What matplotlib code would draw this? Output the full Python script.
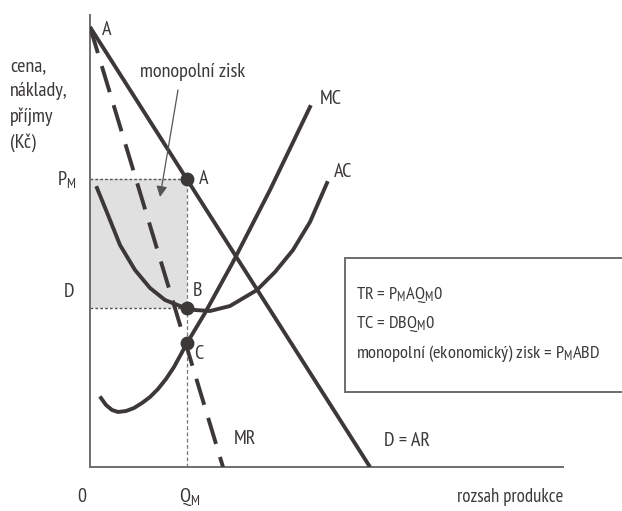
import numpy as np
import matplotlib.pyplot as plt
from matplotlib.patches import Rectangle

plt.rcParams['font.family'] = ['PT Sans Narrow', 'DejaVu Sans']
plt.rcParams['mathtext.fontset'] = 'custom'
plt.rcParams['mathtext.rm'] = 'PT Sans Narrow'
plt.rcParams['mathtext.it'] = 'PT Sans Narrow'

ink = '#3b3837'
axis_col = '#6e6e6e'

# demand (= AR) line: price intercept and quantity intercept
demand_q = [0.0, 28.0]
demand_p = [44.0, 0.0]
# marginal revenue, dashed
mr_q = [0.0, 13.3]
mr_p = [44.0, 0.0]
# marginal cost
mc_q = [1.1, 1.6, 2.2, 2.8, 3.6, 4.4, 5.2, 6.0, 6.8, 7.6, 8.4, 9.0, 9.7, 11.5, 14.3, 18.0, 22.0]
mc_p = [6.9, 6.2, 5.7, 5.5, 5.6, 5.9, 6.4, 7.0, 7.8, 8.8, 10.0, 11.1, 12.4, 15.4, 20.5, 27.7, 36.0]
# average cost
ac_q = [0.7, 1.8, 3.0, 4.5, 6.0, 7.5, 9.0, 9.7, 10.5, 12.0, 14.0, 16.7, 18.5, 20.3, 22.0, 23.7]
ac_p = [27.9, 25.2, 22.2, 19.7, 17.9, 16.7, 16.1, 15.9, 15.7, 15.6, 16.1, 17.7, 19.5, 21.7, 24.5, 28.4]

q_m = 9.7
p_m = np.interp(q_m, demand_q, [demand_p[0], demand_p[1]])
d_level = np.interp(q_m, ac_q, ac_p)
mc_at_qm = np.interp(q_m, mc_q, mc_p)

fig = plt.figure(figsize=(6.22, 5.11), dpi=100)
ax = fig.add_axes([90 / 622, 44 / 511, 473 / 622, 452 / 511])
ax.set_xlim(0, 47.3)
ax.set_ylim(0, 45.2)
for s in ['top', 'right']:
    ax.spines[s].set_visible(False)
for s in ['left', 'bottom']:
    ax.spines[s].set_color(axis_col)
    ax.spines[s].set_linewidth(1.4)
ax.set_xticks([])
ax.set_yticks([])

# profit rectangle
ax.add_patch(Rectangle((0, d_level), q_m, p_m - d_level, fc='#e0e0e0', ec='none', zorder=1))
ax.plot([0, q_m], [p_m, p_m], color='#555555', lw=1, ls=(0, (2, 1.5)), zorder=2)
ax.plot([0, q_m], [d_level, d_level], color='#555555', lw=1, ls=(0, (2, 1.5)), zorder=2)
ax.plot([q_m, q_m], [0, p_m], color='#777777', lw=0.9, ls=(0, (3, 2)), zorder=2)

ax.plot(demand_q, demand_p, color=ink, lw=2.8, solid_capstyle='butt', zorder=3)
ax.plot(mr_q, mr_p, color=ink, lw=2.8, ls=(0, (7, 3.5)), zorder=3)
ax.plot(mc_q, mc_p, color=ink, lw=2.8, solid_joinstyle='round', zorder=3)
ax.plot(ac_q, ac_p, color=ink, lw=2.8, solid_joinstyle='round', zorder=3)

ax.plot([q_m, q_m, q_m], [p_m, d_level, mc_at_qm], 'o', color=ink, ms=9, zorder=4)

fs = 14.5
ax.text(1.2, 43.7, 'A', fontsize=fs, color=ink, va='center')
ax.text(10.9, p_m, 'A', fontsize=fs, color=ink, va='center')
ax.text(10.3, 17.6, 'B', fontsize=fs, color=ink, va='center')
ax.text(10.4, 11.3, 'C', fontsize=fs, color=ink, va='center')
ax.text(23.0, 36.8, 'MC', fontsize=fs, color=ink, va='center')
ax.text(24.4, 29.5, 'AC', fontsize=fs, color=ink, va='center')
ax.text(14.4, 2.8, 'MR', fontsize=fs, color=ink, va='center')
ax.text(29.4, 2.6, 'D = AR', fontsize=fs, color=ink, va='center')

ax.text(-1.4, p_m, r'P$_\mathrm{M}$', fontsize=fs, color=ink, ha='right', va='center')
ax.text(-1.6, 17.5, 'D', fontsize=fs, color=ink, ha='right', va='center')
ax.text(-0.8, -3.0, '0', fontsize=fs, color=ink, ha='center', va='center')
ax.text(q_m + 0.3, -3.0, r'Q$_\mathrm{M}$', fontsize=fs, color=ink, ha='center', va='center')
ax.text(47.3, -3.0, 'rozsah produkce', fontsize=13.5, color=ink, ha='right', va='center')

ax.text(-8.0, 41.0, 'cena,\nnáklady,\npříjmy\n(Kč)', fontsize=fs, color=ink,
        ha='left', va='top', linespacing=1.5)

ax.text(10.3, 39.5, 'monopolní zisk', fontsize=fs, color=ink, ha='center', va='center')
ax.annotate('', xy=(7.0, 27.0), xytext=(8.8, 37.7),
            arrowprops=dict(arrowstyle='-|>', color='#555555', lw=0.9,
                            mutation_scale=16, shrinkA=0, shrinkB=0))

# legend box, open on the right edge
ax.add_patch(Rectangle((25.5, 7.5), 30, 13.4, fc='white', ec=axis_col, lw=1.4,
                       clip_on=False, zorder=5))
box_lines = [r'TR = P$_\mathrm{M}$AQ$_\mathrm{M}$0',
             r'TC = DBQ$_\mathrm{M}$0',
             r'monopolní (ekonomický) zisk = P$_\mathrm{M}$ABD']
for i, line in enumerate(box_lines):
    ax.text(26.6, 17.2 - i * 2.9, line, fontsize=13.2, color=ink, va='center', zorder=6)

fig.savefig('out.png', dpi=100)
